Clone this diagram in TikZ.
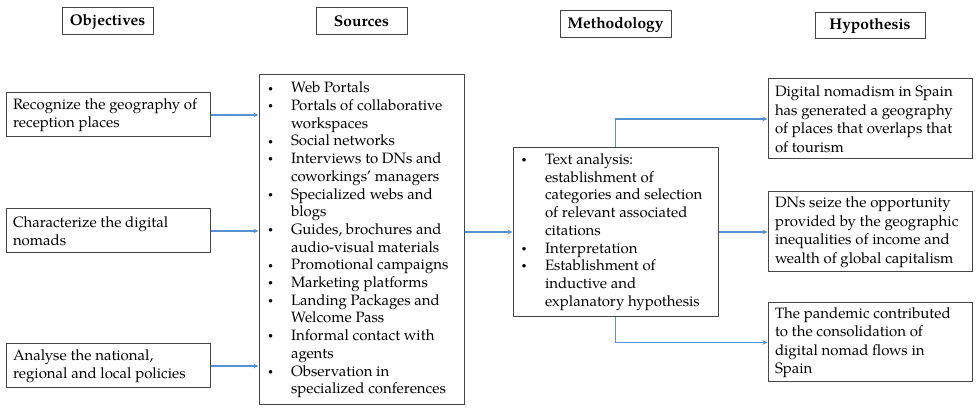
\documentclass[tikz,border=0pt]{standalone}
\usepackage{fontspec}
\setmainfont{TeX Gyre Pagella}
\usetikzlibrary{arrows.meta}
\definecolor{arrowblue}{RGB}{86,146,210}
\definecolor{boxgray}{RGB}{70,70,70}
\tikzset{
  box/.style={draw=boxgray, line width=1pt, rectangle, inner ysep=0pt,
    font=\fontsize{15}{17.7}\selectfont, align=flush left},
  headbox/.style={draw=boxgray, line width=1pt, rectangle, inner sep=0pt,
    font=\fontsize{15.5}{17.7}\selectfont\bfseries},
  arr/.style={draw=arrowblue, line width=1.1pt, -{Stealth[length=5pt,width=4.5pt]}},
}
\newcommand{\smallbul}{\raisebox{0.25ex}{\scalebox{0.6}{\textbullet}}}
\newcommand{\srcbul}{\makebox[26pt][l]{\hspace{3pt}\smallbul}}
\newcommand{\srcind}{\hspace*{26pt}}
\newcommand{\metbul}{\makebox[24pt][l]{\hspace{0.5pt}\smallbul}}
\newcommand{\metind}{\hspace*{24pt}}
\begin{document}
\begin{tikzpicture}[x=1pt,y=-1pt]
\useasboundingbox (0,0) rectangle (980,411);
% headers
\node[headbox, minimum width=91pt, minimum height=27pt] (hobj) at (107.5,21.5) {Objectives};
\node[headbox, minimum width=91pt, minimum height=27pt] (hsrc) at (361.5,21.5) {Sources};
\node[headbox, minimum width=111pt, minimum height=27pt] (hmet) at (615.5,24.5) {Methodology};
\node[headbox, minimum width=110pt, minimum height=26pt] (hhyp) at (870,26) {Hypothesis};
% objectives
\node[box, text width=190pt, inner xsep=7pt, minimum height=44pt] (o1) at (108,115)
  {Recognize the geography of\\reception places};
\node[box, text width=190pt, inner xsep=7pt, minimum height=44pt] (o2) at (108,231)
  {Characterize the digital\\nomads};
\node[box, text width=190pt, inner xsep=7pt, minimum height=44pt] (o3) at (108,366)
  {Analyse the national,\\regional and local policies};
% sources
\node[box, text width=193pt, inner xsep=6pt, minimum height=330pt] (src) at (361.5,240)
  {\srcbul Web Portals\\
   \srcbul Portals of collaborative\\
   \srcind workspaces\\
   \srcbul Social networks\\
   \srcbul Interviews to DNs and\\
   \srcind coworkings’ managers\\
   \srcbul Specialized webs and\\
   \srcind blogs\\
   \srcbul Guides, brochures and\\
   \srcind audio-visual materials\\
   \srcbul Promotional campaigns\\
   \srcbul Marketing platforms\\
   \srcbul Landing Packages and\\
   \srcind Welcome Pass\\
   \srcbul Informal contact with\\
   \srcind agents\\
   \srcbul Observation in\\
   \srcind specialized conferences};
% methodology
\node[box, text width=189pt, inner xsep=8pt, minimum height=169pt] (meth) at (615.5,232)
  {\metbul Text analysis:\\
   \metind establishment of\\
   \metind categories and selection\\
   \metind of relevant associated\\
   \metind citations\\
   \metbul Interpretation\\
   \metbul Establishment of\\
   \metind inductive and\\
   \metind explanatory hypothesis};
% hypotheses
\node[box, text width=190pt, inner xsep=7pt, minimum height=80pt, font=\fontsize{15}{18.5}\selectfont] (h1) at (870,119)
  {Digital nomadism in Spain\\has generated a geography\\of places that overlaps that\\of tourism};
\node[box, text width=190pt, inner xsep=7pt, minimum height=80pt, font=\fontsize{15}{18.5}\selectfont] (h2) at (870,232)
  {DNs seize the opportunity\\provided by the geographic\\inequalities of income and\\wealth of global capitalism};
\node[box, text width=190pt, inner xsep=7pt, minimum height=79pt, font=\fontsize{15}{18.5}\selectfont] (h3) at (870,342.5)
  {The pandemic contributed\\to the consolidation of\\digital nomad flows in\\Spain};
% connectors
\draw[arr] (o1.east) -- (o1.east -| src.west);
\draw[arr] (o2.east) -- (o2.east -| src.west);
\draw[arr] (o3.east) -- (o3.east -| src.west);
\draw[arr] (meth.west -| src.east) -- (meth.west);
\draw[arr] (meth.north) |- (h1.west);
\draw[arr] (meth.east) -- (h2.west);
\draw[arr] (meth.south) |- (h3.west);
\end{tikzpicture}
\end{document}
